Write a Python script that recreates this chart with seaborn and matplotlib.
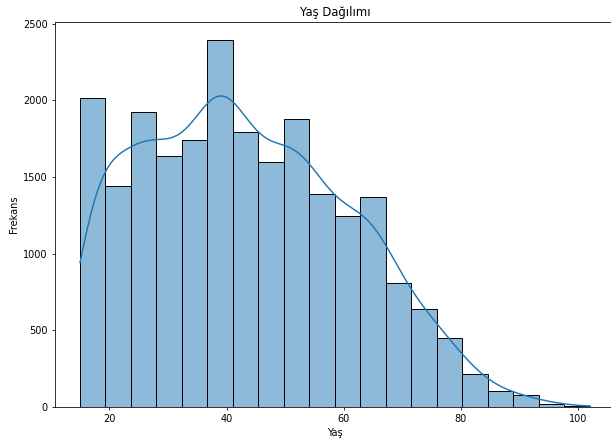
import numpy as np
import pandas as pd
import matplotlib
matplotlib.use("Agg")
import matplotlib.pyplot as plt
import seaborn as sns

# Bin edges (age) and frequencies
bin_start = 15.0
bin_end = 102.0
n_bins = 20
counts = [2016, 1442, 1922, 1634, 1743, 2391, 1795, 1599, 1878, 1387,
          1245, 1370, 810, 641, 452, 214, 103, 77, 20, 8]

title = "Yaş Dağılımı"
xlabel = "Yaş"
ylabel = "Frekans"

edges = np.linspace(bin_start, bin_end, n_bins + 1)
centers = (edges[:-1] + edges[1:]) / 2
df = pd.DataFrame({"Yaş": centers, "count": counts})

DPI = 70
fig = plt.figure(figsize=(611 / DPI, 445 / DPI), dpi=DPI)
ax = fig.add_axes([0.0892, 0.0854, 0.918, 0.865])

sns.histplot(data=df, x="Yaş", weights="count", bins=n_bins,
             binrange=(bin_start, bin_end), kde=True,
             kde_kws={"bw_adjust": 0.37, "cut": 3, "clip": (bin_start, bin_end)},
             color="#1f77b4", edgecolor="black", ax=ax)

ax.set_title(title)
ax.set_xlabel(xlabel)
ax.set_ylabel(ylabel)
ax.set_xticks([20, 40, 60, 80, 100])
ax.set_yticks([0, 500, 1000, 1500, 2000, 2500])

fig.savefig("out.png", dpi=DPI)
